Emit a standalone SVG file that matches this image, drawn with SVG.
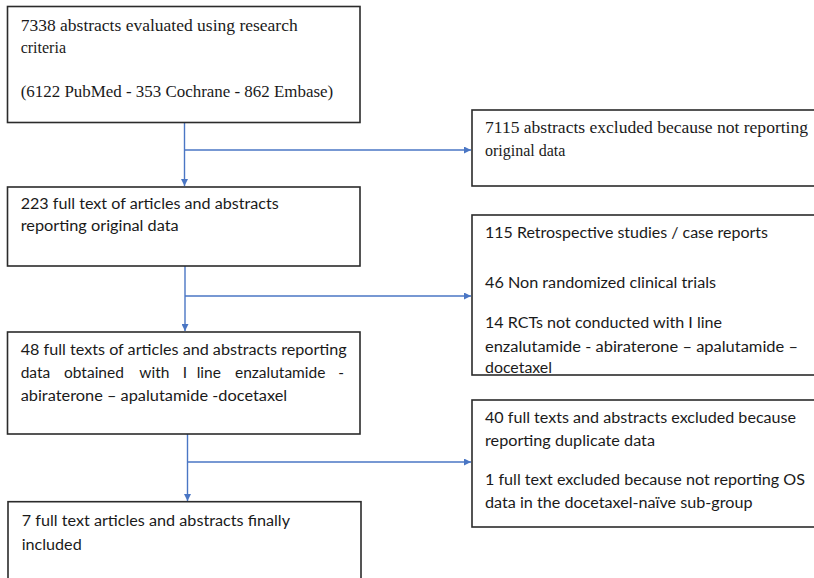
<svg xmlns="http://www.w3.org/2000/svg" width="814" height="578" viewBox="0 0 814 578">
<style>
.box{fill:#fff;stroke:#2b2b2b;stroke-width:1.6}
.serif{font-family:"Liberation Serif","Times New Roman",serif;font-size:16px;fill:#1a1a1a}
.sans{font-family:Lato,"Open Sans","Liberation Sans",sans-serif;font-size:15.5px;fill:#1a1a1a}
.con{fill:none;stroke:#4a76c4;stroke-width:1.4}
</style>
<defs>
<marker id="ah" viewBox="0 0 10 10" refX="10" refY="5" markerWidth="7" markerHeight="7" orient="auto" markerUnits="userSpaceOnUse">
<path d="M0,0 L10,5 L0,10 z" fill="#4a76c4"/>
</marker>
</defs>
<g id="connectors">
<line class="con" x1="184.5" y1="122" x2="184.5" y2="186" marker-end="url(#ah)"/>
<line class="con" x1="184.5" y1="150" x2="471" y2="150" marker-end="url(#ah)"/>
<line class="con" x1="185" y1="266" x2="185" y2="331" marker-end="url(#ah)"/>
<line class="con" x1="185" y1="296" x2="471" y2="296" marker-end="url(#ah)"/>
<line class="con" x1="187.5" y1="434" x2="187.5" y2="501" marker-end="url(#ah)"/>
<line class="con" x1="187.5" y1="462" x2="471" y2="462" marker-end="url(#ah)"/>
</g>
<g id="n1">
<rect class="box" x="7.5" y="6.5" width="352.5" height="116"/>
<text class="serif" x="20.7" y="30.7" textLength="277" lengthAdjust="spacingAndGlyphs">7338 abstracts evaluated using research</text>
<text class="serif" x="20.7" y="53.3">criteria</text>
<text class="serif" x="20.7" y="97" textLength="312.5" lengthAdjust="spacingAndGlyphs">(6122 PubMed - 353 Cochrane - 862 Embase)</text>
</g>
<g id="n2">
<rect class="box" x="472" y="110" width="350" height="76"/>
<text class="serif" x="485" y="133.3" textLength="323" lengthAdjust="spacingAndGlyphs">7115 abstracts excluded because not reporting</text>
<text class="serif" x="485" y="156">original data</text>
</g>
<g id="n3">
<rect class="box" x="7.5" y="187" width="352.5" height="79"/>
<text class="sans" x="20.7" y="209" textLength="258" lengthAdjust="spacingAndGlyphs">223 full text of articles and abstracts</text>
<text class="sans" x="20.7" y="231" textLength="158" lengthAdjust="spacingAndGlyphs">reporting original data</text>
</g>
<g id="n4">
<rect class="box" x="472" y="215" width="350" height="160"/>
<text class="sans" x="485" y="237.5" textLength="283" lengthAdjust="spacingAndGlyphs">115 Retrospective studies / case reports</text>
<text class="sans" x="485" y="288" textLength="231" lengthAdjust="spacingAndGlyphs">46 Non randomized clinical trials</text>
<text class="sans" x="485" y="328" textLength="237" lengthAdjust="spacingAndGlyphs">14 RCTs not conducted with I line</text>
<text class="sans" x="485" y="352" textLength="313" lengthAdjust="spacingAndGlyphs">enzalutamide - abiraterone – apalutamide –</text>
<text class="sans" x="485" y="372.5" textLength="67" lengthAdjust="spacingAndGlyphs">docetaxel</text>
</g>
<g id="n5">
<rect class="box" x="7.5" y="332" width="352.5" height="102"/>
<text class="sans" x="20.7" y="354.5" textLength="326" lengthAdjust="spacingAndGlyphs">48 full texts of articles and abstracts reporting</text>
<text class="sans" y="378"><tspan x="20.7">data</tspan><tspan x="64">obtained</tspan><tspan x="139.3">with</tspan><tspan x="182.7">I</tspan><tspan x="196.7">line</tspan><tspan x="235">enzalutamide</tspan><tspan x="338.3">-</tspan></text>
<text class="sans" x="20.7" y="401" textLength="266.5" lengthAdjust="spacingAndGlyphs">abiraterone – apalutamide -docetaxel</text>
</g>
<g id="n6">
<rect class="box" x="472" y="400" width="350" height="127"/>
<text class="sans" x="485" y="423" textLength="311" lengthAdjust="spacingAndGlyphs">40 full texts and abstracts excluded because</text>
<text class="sans" x="485" y="446" textLength="170" lengthAdjust="spacingAndGlyphs">reporting duplicate data</text>
<text class="sans" x="485" y="484.5" textLength="320" lengthAdjust="spacingAndGlyphs">1 full text excluded because not reporting OS</text>
<text class="sans" x="485" y="507.5" textLength="267.5" lengthAdjust="spacingAndGlyphs">data in the docetaxel-naïve sub-group</text>
</g>
<g id="n7">
<rect class="box" x="8" y="501.7" width="353" height="90"/>
<text class="sans" x="21.7" y="526" textLength="268.3" lengthAdjust="spacingAndGlyphs">7 full text articles and abstracts finally</text>
<text class="sans" x="21.7" y="550" textLength="60" lengthAdjust="spacingAndGlyphs">included</text>
</g>
</svg>
